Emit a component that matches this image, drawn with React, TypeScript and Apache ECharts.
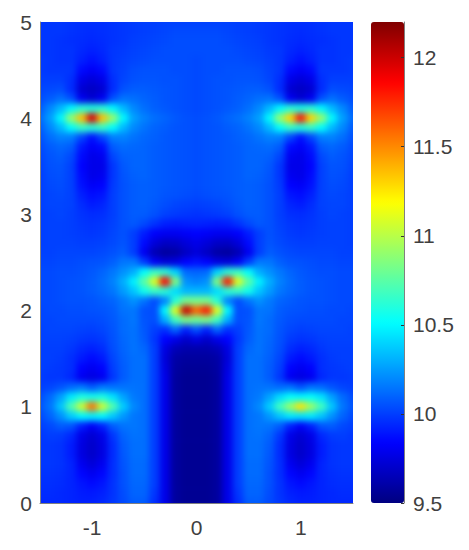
import React, { useEffect, useRef } from "react";
import * as echarts from "echarts";

const xCells = Array.from({ length: 31 }, (_, i) => ((i - 15) / 10).toFixed(1));
const yCells = Array.from({ length: 51 }, (_, i) => (i / 10).toFixed(1));
const jetColors = ["#000080", "#0000ff", "#0080ff", "#00ffff", "#80ff80", "#ffff00", "#ff8000", "#ff0000", "#800000"];
const colorMin = 9.5;
const colorMax = 12.2;
const xTicks = [-1, 0, 1];

// top row is y = 5.0, bottom row is y = 0.0; columns run x = -1.5 ... 1.5
const cellRows: number[][] = [
[9.98,9.98,9.98,9.97,9.96,9.96,9.96,9.97,9.98,9.99,10.0,10.0,10.01,10.01,10.01,10.01,10.01,10.01,10.01,10.0,10.0,9.99,9.98,9.97,9.96,9.96,9.96,9.97,9.98,9.98,9.98],
[9.98,9.98,9.98,9.97,9.96,9.95,9.96,9.97,9.98,9.99,10.0,10.01,10.02,10.03,10.03,10.03,10.03,10.03,10.02,10.01,10.0,9.99,9.98,9.97,9.96,9.95,9.96,9.97,9.98,9.98,9.98],
[9.98,9.98,9.97,9.96,9.95,9.94,9.95,9.97,9.98,10.0,10.01,10.02,10.03,10.04,10.04,10.04,10.04,10.04,10.03,10.02,10.01,10.0,9.98,9.97,9.95,9.94,9.95,9.96,9.97,9.98,9.98],
[9.98,9.98,9.97,9.97,9.94,9.92,9.94,9.98,9.99,10.01,10.02,10.03,10.04,10.04,10.04,10.04,10.04,10.04,10.04,10.03,10.02,10.01,9.99,9.98,9.94,9.92,9.94,9.97,9.97,9.98,9.98],
[9.99,9.98,9.97,9.97,9.92,9.88,9.92,9.98,10.0,10.02,10.03,10.04,10.04,10.04,10.04,10.03,10.04,10.04,10.04,10.04,10.03,10.02,10.0,9.98,9.92,9.88,9.92,9.97,9.97,9.98,9.99],
[9.99,9.98,9.98,9.98,9.86,9.82,9.86,9.98,10.01,10.04,10.05,10.05,10.05,10.04,10.04,10.03,10.04,10.04,10.05,10.05,10.05,10.04,10.01,9.98,9.86,9.82,9.86,9.98,9.98,9.98,9.99],
[10.0,10.0,10.0,9.96,9.78,9.74,9.78,9.96,10.02,10.05,10.06,10.06,10.05,10.05,10.04,10.03,10.04,10.05,10.05,10.06,10.06,10.05,10.02,9.96,9.78,9.74,9.78,9.96,10.0,10.0,10.0],
[10.02,10.03,10.04,9.95,9.72,9.68,9.72,9.95,10.05,10.08,10.08,10.07,10.06,10.05,10.04,10.03,10.04,10.05,10.06,10.07,10.08,10.08,10.05,9.95,9.72,9.68,9.72,9.95,10.04,10.03,10.02],
[10.04,10.08,10.13,10.05,9.8,9.72,9.8,10.05,10.14,10.13,10.1,10.08,10.06,10.05,10.04,10.03,10.04,10.05,10.06,10.08,10.1,10.13,10.14,10.05,9.8,9.72,9.8,10.05,10.13,10.08,10.04],
[10.08,10.2,10.33,10.5,10.62,10.6,10.62,10.5,10.33,10.2,10.13,10.09,10.07,10.05,10.04,10.03,10.04,10.05,10.07,10.09,10.13,10.2,10.33,10.5,10.62,10.58,10.62,10.5,10.33,10.2,10.08],
[10.12,10.26,10.5,10.9,11.35,11.95,11.35,10.9,10.5,10.26,10.18,10.13,10.1,10.07,10.05,10.04,10.05,10.07,10.1,10.13,10.18,10.26,10.5,10.9,11.3,11.8,11.3,10.9,10.5,10.26,10.12],
[10.08,10.2,10.33,10.52,10.65,10.62,10.65,10.52,10.33,10.2,10.14,10.1,10.08,10.06,10.05,10.04,10.05,10.06,10.08,10.1,10.14,10.2,10.33,10.52,10.65,10.6,10.65,10.52,10.33,10.2,10.08],
[10.05,10.13,10.18,10.17,10.02,9.88,10.02,10.17,10.18,10.14,10.11,10.09,10.07,10.06,10.05,10.04,10.05,10.06,10.07,10.09,10.11,10.14,10.18,10.17,10.02,9.88,10.02,10.17,10.18,10.13,10.05],
[10.03,10.08,10.11,10.08,9.9,9.82,9.86,10.08,10.12,10.11,10.1,10.08,10.07,10.06,10.05,10.04,10.05,10.06,10.07,10.08,10.1,10.11,10.12,10.08,9.86,9.82,9.9,10.08,10.11,10.08,10.03],
[10.02,10.06,10.08,10.03,9.86,9.78,9.8,10.02,10.09,10.1,10.1,10.08,10.07,10.06,10.05,10.04,10.05,10.06,10.07,10.08,10.1,10.1,10.09,10.02,9.8,9.78,9.86,10.03,10.08,10.06,10.02],
[10.01,10.05,10.06,10.01,9.84,9.78,9.78,9.98,10.07,10.1,10.1,10.08,10.07,10.06,10.05,10.04,10.05,10.06,10.07,10.08,10.1,10.1,10.07,9.98,9.78,9.78,9.84,10.01,10.06,10.05,10.01],
[10.0,10.04,10.05,10.01,9.86,9.78,9.8,9.98,10.06,10.09,10.1,10.08,10.07,10.06,10.05,10.04,10.05,10.06,10.07,10.08,10.1,10.09,10.06,9.98,9.8,9.78,9.86,10.01,10.05,10.04,10.0],
[10.0,10.03,10.04,10.01,9.88,9.82,9.84,9.99,10.05,10.08,10.09,10.08,10.07,10.06,10.05,10.04,10.05,10.06,10.07,10.08,10.09,10.08,10.05,9.99,9.84,9.82,9.88,10.01,10.04,10.03,10.0],
[10.0,10.02,10.03,10.01,9.92,9.87,9.89,10.0,10.05,10.08,10.09,10.08,10.06,10.05,10.04,10.03,10.04,10.05,10.06,10.08,10.09,10.08,10.05,10.0,9.89,9.87,9.92,10.01,10.03,10.02,10.0],
[10.0,10.02,10.02,10.01,9.95,9.91,9.93,10.0,10.05,10.08,10.09,10.07,10.04,10.02,10.01,10.0,10.01,10.02,10.04,10.07,10.09,10.08,10.05,10.0,9.93,9.91,9.95,10.01,10.02,10.02,10.0],
[10.0,10.01,10.02,10.0,9.97,9.95,9.96,10.0,10.05,10.08,10.08,10.05,10.01,9.99,9.98,9.97,9.98,9.99,10.01,10.05,10.08,10.08,10.05,10.0,9.96,9.95,9.97,10.0,10.02,10.01,10.0],
[10.0,10.01,10.01,10.0,9.98,9.97,9.98,10.01,10.05,10.07,10.03,9.97,9.92,9.91,9.92,9.93,9.92,9.91,9.92,9.97,10.03,10.07,10.05,10.01,9.98,9.97,9.98,10.0,10.01,10.01,10.0],
[10.0,10.01,10.01,10.0,9.99,9.98,9.99,10.02,10.05,10.0,9.91,9.83,9.8,9.8,9.82,9.84,9.82,9.8,9.8,9.83,9.91,10.0,10.05,10.02,9.99,9.98,9.99,10.0,10.01,10.01,10.0],
[10.0,10.01,10.01,10.01,10.0,10.0,10.01,10.03,10.06,10.0,9.86,9.74,9.68,9.69,9.74,9.78,9.74,9.69,9.68,9.74,9.86,10.0,10.06,10.03,10.01,10.0,10.0,10.01,10.01,10.01,10.0],
[10.01,10.01,10.02,10.02,10.02,10.02,10.03,10.05,10.08,10.0,9.8,9.64,9.58,9.6,9.68,9.74,9.68,9.6,9.58,9.64,9.8,10.0,10.08,10.05,10.03,10.02,10.02,10.02,10.02,10.01,10.01],
[10.02,10.02,10.03,10.03,10.04,10.05,10.06,10.09,10.15,10.16,10.0,9.82,9.74,9.76,9.84,9.88,9.84,9.76,9.74,9.82,10.0,10.16,10.15,10.09,10.06,10.05,10.04,10.03,10.03,10.02,10.02],
[10.03,10.03,10.04,10.04,10.05,10.07,10.1,10.15,10.22,10.3,10.52,10.66,10.62,10.4,10.12,10.1,10.12,10.4,10.62,10.66,10.52,10.3,10.22,10.15,10.1,10.07,10.05,10.04,10.04,10.03,10.03],
[10.03,10.03,10.04,10.05,10.06,10.08,10.12,10.18,10.3,10.48,10.75,11.1,11.85,10.85,10.22,10.18,10.22,10.85,11.8,11.1,10.75,10.48,10.3,10.18,10.12,10.08,10.06,10.05,10.04,10.03,10.03],
[10.03,10.03,10.04,10.05,10.06,10.08,10.11,10.15,10.25,10.36,10.56,10.66,10.62,10.42,10.32,10.32,10.32,10.42,10.62,10.66,10.56,10.36,10.25,10.15,10.11,10.08,10.06,10.05,10.04,10.03,10.03],
[10.03,10.03,10.04,10.05,10.05,10.06,10.08,10.1,10.16,10.22,10.14,10.04,10.18,10.62,10.82,10.82,10.82,10.62,10.18,10.04,10.14,10.22,10.16,10.1,10.08,10.06,10.05,10.05,10.04,10.03,10.03],
[10.02,10.03,10.03,10.04,10.04,10.05,10.06,10.08,10.14,10.15,10.05,10.04,10.5,11.1,12.0,11.6,11.8,11.1,10.5,10.04,10.05,10.15,10.14,10.08,10.06,10.05,10.04,10.04,10.03,10.03,10.02],
[10.02,10.02,10.03,10.03,10.03,10.03,10.04,10.07,10.12,10.15,10.06,10.04,10.3,10.68,10.84,10.8,10.84,10.68,10.3,10.04,10.06,10.15,10.12,10.07,10.04,10.03,10.03,10.03,10.03,10.02,10.02],
[10.01,10.02,10.02,10.02,10.01,10.0,10.02,10.06,10.12,10.14,10.07,10.0,9.96,10.1,9.92,10.05,9.92,10.1,9.96,10.0,10.07,10.14,10.12,10.06,10.02,10.0,10.01,10.02,10.02,10.02,10.01],
[10.01,10.01,10.01,10.0,9.98,9.97,9.99,10.05,10.11,10.14,10.08,9.98,9.84,9.78,9.7,9.76,9.7,9.78,9.84,9.98,10.08,10.14,10.11,10.05,9.99,9.97,9.98,10.0,10.01,10.01,10.01],
[10.0,10.0,10.0,9.98,9.94,9.92,9.95,10.04,10.1,10.14,10.11,10.0,9.76,9.65,9.62,9.62,9.62,9.65,9.76,10.0,10.11,10.14,10.1,10.04,9.95,9.92,9.94,9.98,10.0,10.0,10.0],
[10.0,10.0,9.99,9.96,9.9,9.86,9.9,10.02,10.09,10.13,10.13,10.0,9.74,9.6,9.58,9.58,9.58,9.6,9.74,10.0,10.13,10.13,10.09,10.02,9.9,9.86,9.9,9.96,9.99,10.0,10.0],
[10.0,9.99,9.98,9.96,9.84,9.8,9.84,10.0,10.08,10.13,10.13,10.0,9.76,9.59,9.56,9.56,9.56,9.59,9.76,10.0,10.13,10.13,10.08,10.0,9.84,9.8,9.84,9.96,9.98,9.99,10.0],
[9.99,9.98,9.98,9.94,9.8,9.76,9.8,9.98,10.08,10.13,10.13,10.0,9.78,9.58,9.55,9.55,9.55,9.58,9.78,10.0,10.13,10.13,10.08,9.98,9.8,9.76,9.8,9.94,9.98,9.98,9.99],
[10.0,10.02,10.06,10.12,10.16,10.08,10.16,10.14,10.14,10.14,10.13,10.0,9.78,9.58,9.55,9.55,9.55,9.58,9.78,10.0,10.13,10.14,10.14,10.12,10.14,10.06,10.14,10.12,10.06,10.02,10.0],
[10.04,10.12,10.26,10.46,10.58,10.56,10.58,10.44,10.27,10.16,10.13,10.0,9.78,9.58,9.55,9.55,9.55,9.58,9.78,10.0,10.13,10.16,10.27,10.42,10.52,10.5,10.52,10.44,10.26,10.12,10.04],
[10.06,10.15,10.36,10.72,11.05,11.55,11.05,10.72,10.38,10.2,10.13,10.0,9.78,9.58,9.55,9.55,9.55,9.58,9.78,10.0,10.13,10.2,10.38,10.68,10.92,11.25,10.92,10.68,10.36,10.15,10.06],
[10.03,10.1,10.22,10.38,10.5,10.48,10.5,10.37,10.24,10.15,10.13,10.0,9.78,9.58,9.55,9.55,9.55,9.58,9.78,10.0,10.13,10.15,10.24,10.36,10.46,10.44,10.46,10.36,10.22,10.1,10.03],
[10.0,10.03,10.08,10.06,9.92,9.82,9.92,10.08,10.14,10.15,10.13,10.0,9.78,9.58,9.55,9.55,9.55,9.58,9.78,10.0,10.13,10.15,10.14,10.08,9.92,9.82,9.92,10.06,10.08,10.03,10.0],
[9.98,10.0,9.99,9.94,9.78,9.72,9.78,9.98,10.1,10.14,10.13,10.0,9.78,9.58,9.55,9.55,9.55,9.58,9.78,10.0,10.13,10.14,10.1,9.98,9.78,9.72,9.78,9.94,9.99,10.0,9.98],
[9.98,9.98,9.97,9.91,9.76,9.7,9.76,9.95,10.08,10.13,10.13,10.0,9.78,9.58,9.55,9.55,9.55,9.58,9.78,10.0,10.13,10.13,10.08,9.95,9.76,9.7,9.76,9.91,9.97,9.98,9.98],
[9.98,9.98,9.97,9.91,9.76,9.7,9.76,9.95,10.07,10.13,10.13,10.0,9.78,9.58,9.55,9.55,9.55,9.58,9.78,10.0,10.13,10.13,10.07,9.95,9.76,9.7,9.76,9.91,9.97,9.98,9.98],
[9.98,9.98,9.97,9.93,9.8,9.74,9.8,9.96,10.06,10.12,10.12,10.0,9.78,9.58,9.55,9.55,9.55,9.58,9.78,10.0,10.12,10.12,10.06,9.96,9.8,9.74,9.8,9.93,9.97,9.98,9.98],
[9.97,9.97,9.96,9.93,9.85,9.8,9.85,9.96,10.05,10.12,10.12,10.0,9.78,9.58,9.55,9.55,9.55,9.58,9.78,10.0,10.12,10.12,10.05,9.96,9.85,9.8,9.85,9.93,9.96,9.97,9.97],
[9.96,9.96,9.95,9.93,9.89,9.86,9.89,9.97,10.05,10.11,10.11,10.0,9.78,9.58,9.55,9.55,9.55,9.58,9.78,10.0,10.11,10.11,10.05,9.97,9.89,9.86,9.89,9.93,9.95,9.96,9.96],
[9.95,9.95,9.94,9.93,9.91,9.9,9.92,9.97,10.04,10.1,10.1,9.98,9.78,9.58,9.55,9.55,9.55,9.58,9.78,9.98,10.1,10.1,10.04,9.97,9.92,9.9,9.91,9.93,9.94,9.95,9.95],
[9.94,9.94,9.94,9.93,9.92,9.92,9.94,9.98,10.03,10.08,10.08,9.96,9.78,9.58,9.55,9.55,9.55,9.58,9.78,9.96,10.08,10.08,10.03,9.98,9.94,9.92,9.92,9.93,9.94,9.94,9.94],
];

const heatData: [number, number, number][] = [];
cellRows.forEach((row, r) => row.forEach((v, c) => heatData.push([c, 50 - r, v])));

const PLOT = { left: 40, top: 22, width: 313, height: 481 };
const BAR = { left: 371, top: 22, width: 33, height: 481 };
const cellW = PLOT.width / 30;
const cellH = PLOT.height / 50;
const FONT = '"Liberation Sans", Arial, sans-serif';
const INK = "#404040";
const LINE = "#808080";

export default function App() {
  const heatRef = useRef<HTMLDivElement>(null);
  const frameRef = useRef<HTMLDivElement>(null);

  useEffect(() => {
    const heat = echarts.init(heatRef.current!, undefined, { renderer: "svg" });
    heat.setOption({
      animation: false,
      backgroundColor: "#0040ff",
      grid: {
        left: PLOT.left - cellW / 2,
        top: PLOT.top - cellH / 2,
        width: PLOT.width + cellW,
        height: PLOT.height + cellH,
      },
      xAxis: { type: "category", data: xCells, show: false },
      yAxis: { type: "category", data: yCells, show: false },
      visualMap: { show: false, min: colorMin, max: colorMax, inRange: { color: jetColors } },
      series: [{ type: "heatmap", data: heatData, itemStyle: { borderWidth: 0 }, silent: true, progressive: 0 }],
    });

    const frame = echarts.init(frameRef.current!, undefined, { renderer: "svg" });
    const label = { color: INK, fontSize: 21, fontFamily: FONT };
    frame.setOption({
      animation: false,
      grid: [
        { ...PLOT, containLabel: false },
        { ...BAR, containLabel: false },
      ],
      xAxis: [
        {
          type: "value", gridIndex: 0, min: -1.5, max: 1.5, interval: 0.5,
          splitLine: { show: false },
          axisLine: { show: true, onZero: false, lineStyle: { color: LINE } },
          axisTick: { show: false },
          axisLabel: {
            ...label, margin: 14, showMinLabel: true, showMaxLabel: true,
            formatter: (v: number) => (xTicks.includes(v) ? String(v) : ""),
          },
        },
        { type: "value", gridIndex: 1, min: 0, max: 1, show: false },
      ],
      yAxis: [
        {
          type: "value", gridIndex: 0, min: 0, max: 5, interval: 1,
          splitLine: { show: false },
          axisLine: { show: true, onZero: false, lineStyle: { color: LINE } },
          axisTick: { show: false },
          axisLabel: { ...label, margin: 8 },
        },
        {
          type: "value", gridIndex: 1, position: "right", min: colorMin, max: colorMax, interval: 0.5, z: 10,
          splitLine: { show: false },
          axisLine: { show: true, onZero: false, lineStyle: { color: LINE } },
          axisTick: { show: true, inside: true, length: 3, lineStyle: { color: "#333333" } },
          axisLabel: { ...label, margin: 9, showMaxLabel: false },
        },
      ],
      visualMap: {
        type: "continuous",
        min: colorMin, max: colorMax,
        left: BAR.left, top: BAR.top,
        itemWidth: BAR.width, itemHeight: BAR.height,
        padding: 0, calculable: false, hoverLink: false, realtime: false,
        seriesIndex: [],
        inRange: { color: jetColors },
      },
      series: [],
    });

    return () => {
      heat.dispose();
      frame.dispose();
    };
  }, []);

  return (
    <div style={{ position: "fixed", left: 0, top: 0, width: 469, height: 550, background: "#fff", overflow: "hidden" }}>
      <div style={{ position: "absolute", left: PLOT.left, top: PLOT.top, width: PLOT.width, height: PLOT.height, overflow: "hidden" }}>
        <div
          ref={heatRef}
          style={{ position: "absolute", left: -PLOT.left, top: -PLOT.top, width: 469, height: 550, filter: "blur(3px)" }}
        />
      </div>
      <div ref={frameRef} style={{ position: "absolute", left: 0, top: 0, width: 469, height: 550 }} />
    </div>
  );
}
